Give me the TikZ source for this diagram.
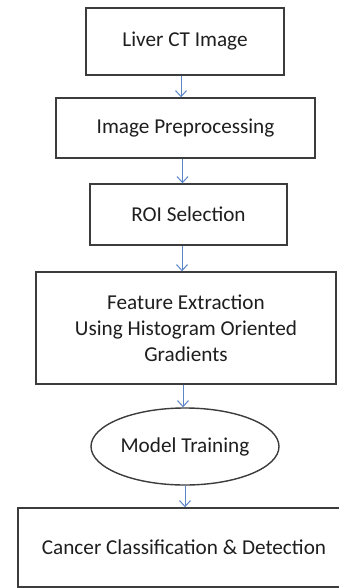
\documentclass[tikz,border=0pt]{standalone}
\usepackage{fontspec}
\setmainfont{Carlito}
\usetikzlibrary{arrows.meta,shapes.geometric}
\definecolor{edgegray}{HTML}{3C3C3C}
\definecolor{txt}{HTML}{1E1E1E}
\definecolor{arrblue}{HTML}{5A86C8}
\tikzset{
  procbox/.style={draw=edgegray, line width=1.4pt, rectangle, inner sep=0pt, align=center,
    font=\fontsize{21.2}{26}\selectfont, text=txt},
  ovalbox/.style={draw=edgegray, line width=1.4pt, ellipse, inner sep=0pt, align=center,
    font=\fontsize{21.2}{26}\selectfont, text=txt},
  arr/.style={draw=arrblue, line width=1pt, -{Straight Barb[length=6pt,width=11pt]}}
}
\begin{document}
\begin{tikzpicture}[x=1pt,y=-1pt]
\useasboundingbox (0,0) rectangle (339,588);
\node[procbox, minimum width=198pt, minimum height=67pt] (b1) at (185,41.5) {Liver CT Image};
\node[procbox, minimum width=259pt, minimum height=60pt] (b2) at (185.5,128) {Image Preprocessing};
\node[procbox, minimum width=197pt, minimum height=61pt] (b3) at (188.5,214.5) {ROI Selection};
\node[procbox, minimum width=300pt, minimum height=112pt] (b4) at (186,328) {Feature Extraction\\Using Histogram Oriented\\Gradients};
\node[ovalbox, minimum width=188pt, minimum height=77pt] (b5) at (185,446.5) {Model Training};
\node[procbox, minimum width=332pt, minimum height=79pt] (b6) at (184,547.5) {Cancer Classification \& Detection};
\draw[arr] (b1.south -| 181,0) -- (b2.north -| 181,0);
\draw[arr] (b2.south -| 182.5,0) -- (b3.north -| 182.5,0);
\draw[arr] (b3.south -| 182,0) -- (b4.north -| 182,0);
\draw[arr] (b4.south -| 183,0) -- (b5.north -| 183,0);
\draw[arr] (b5.south -| 185,0) -- (b6.north -| 185,0);
\end{tikzpicture}
\end{document}
